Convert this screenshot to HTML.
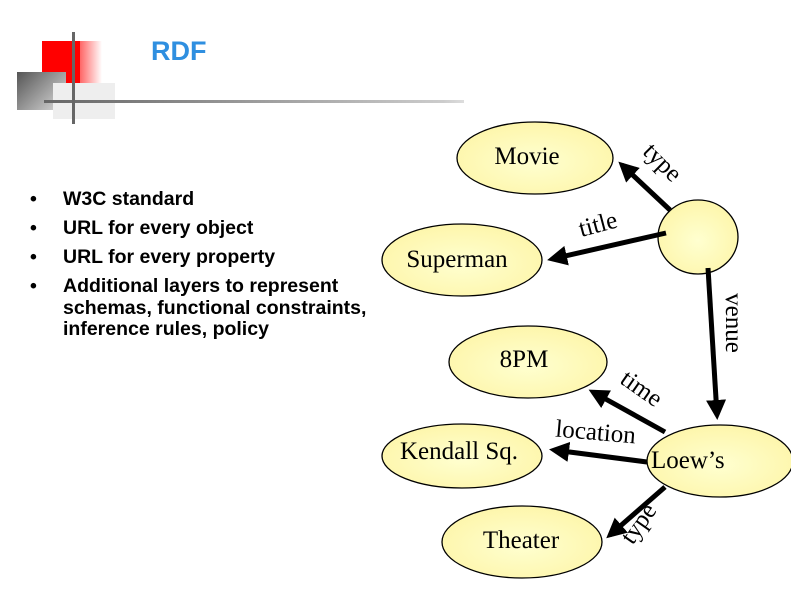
<!DOCTYPE html>
<html><head><style>
body{margin:0;width:791px;height:593px;background:#fff;position:relative;overflow:hidden;font-family:"Liberation Sans",sans-serif}
.b{position:absolute;font-weight:bold;font-size:19.5px;color:#000;line-height:21.5px}
</style></head><body>
<div style="position:absolute;left:42px;top:41px;width:38px;height:42px;background:#f00"></div>
<div style="position:absolute;left:80px;top:41px;width:22px;height:42px;background:linear-gradient(90deg,#f66,#fff)"></div>
<div style="position:absolute;left:17px;top:72px;width:49px;height:38px;background:linear-gradient(135deg,#555,#ddd)"></div>
<div style="position:absolute;left:53px;top:83px;width:62px;height:36px;background:#eee"></div>
<div style="position:absolute;left:44px;top:100px;width:420px;height:3px;background:linear-gradient(90deg,#666,#ccc 95%,#ddd)"></div>
<div style="position:absolute;left:72px;top:32px;width:3px;height:92px;background:#666"></div>
<div style="position:absolute;left:151px;top:36px;font-size:27px;font-weight:bold;color:#2f8fe0">RDF</div>

<div class="b" style="left:30px;top:189px">•</div><div class="b" style="left:63px;top:189px">W3C standard</div>
<div class="b" style="left:30px;top:218px">•</div><div class="b" style="left:63px;top:218px">URL for every object</div>
<div class="b" style="left:30px;top:247px">•</div><div class="b" style="left:63px;top:247px">URL for every property</div>
<div class="b" style="left:30px;top:276px">•</div><div class="b" style="left:63px;top:276px">Additional layers to represent<br>schemas, functional constraints,<br>inference rules, policy</div>

<svg width="791" height="593" style="position:absolute;left:0;top:0" font-family="Liberation Serif, serif" font-size="25">
<defs>
<radialGradient id="g" cx="50%" cy="55%" r="60%"><stop offset="0" stop-color="#ffffd0"/><stop offset="1" stop-color="#fdf5a8"/></radialGradient>
<marker id="a" markerWidth="4" markerHeight="4" refX="3" refY="2" orient="auto"><path d="M0,0L4,2L0,4z" fill="#000"/></marker>
</defs>
<g fill="url(#g)" stroke="#000" stroke-width="1.3">
<ellipse cx="535" cy="158" rx="78" ry="36"/>
<ellipse cx="698" cy="237" rx="40" ry="37"/>
<ellipse cx="462" cy="260" rx="80" ry="36"/>
<ellipse cx="528" cy="362" rx="79" ry="36"/>
<ellipse cx="462" cy="456" rx="80" ry="32"/>
<ellipse cx="720" cy="461" rx="73" ry="36"/>
<ellipse cx="522" cy="542" rx="80" ry="36"/>
</g>
<g stroke="#000" stroke-width="5" marker-end="url(#a)">
<line x1="670" y1="210" x2="622" y2="165"/>
<line x1="666" y1="233" x2="552" y2="259"/>
<line x1="708" y1="268" x2="717" y2="415"/>
<line x1="665" y1="432" x2="593" y2="392"/>
<line x1="647" y1="462" x2="554" y2="450"/>
<line x1="665" y1="487" x2="610" y2="535"/>
</g>
<g fill="#000" text-anchor="middle">
<text x="527" y="164">Movie</text>
<text x="457" y="267">Superman</text>
<text x="524" y="367">8PM</text>
<text x="459" y="459">Kendall Sq.</text>
<text x="651" y="468" text-anchor="start">Loew’s</text>
<text x="521" y="548">Theater</text>
<text transform="translate(657,168) rotate(45)">type</text>
<text transform="translate(600,232) rotate(-15)">title</text>
<text transform="translate(726,323) rotate(90)">venue</text>
<text transform="translate(637,395) rotate(35)">time</text>
<text transform="translate(595,440) rotate(5)">location</text>
<text transform="translate(645,528) rotate(-55)">type</text>
</g>
</svg>
</body></html>
